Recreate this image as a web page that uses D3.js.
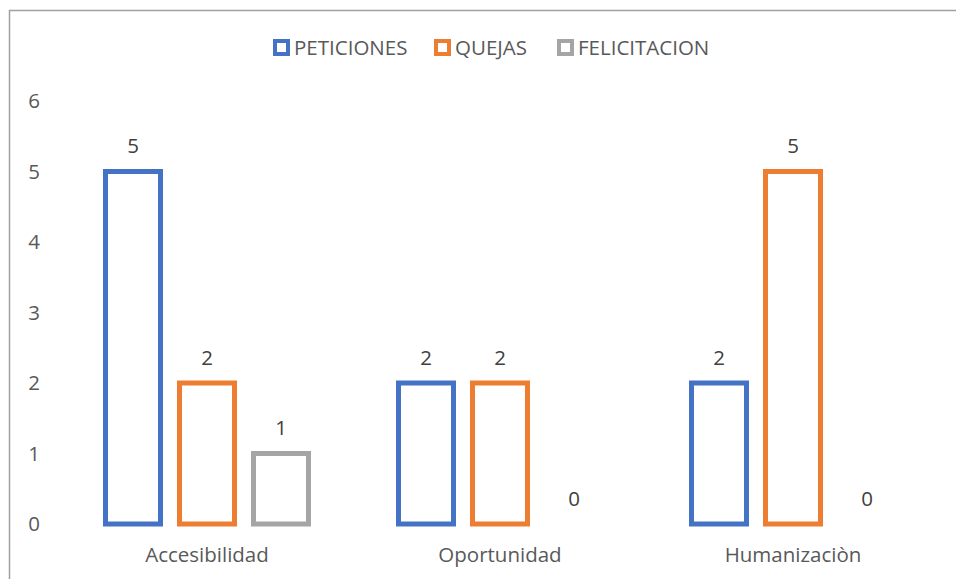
<!DOCTYPE html>
<html><head><meta charset="utf-8">
<script src="https://cdn.jsdelivr.net/npm/d3@7"></script>
<style>body{margin:0;background:#fff;} svg{display:block;}</style>
</head><body>
<svg id="c" width="956" height="579"></svg>
<script>
const categories = ["Accesibilidad", "Oportunidad", "Humanizaciòn"];
const series = ["PETICIONES", "QUEJAS", "FELICITACION"];
const peticiones = [5, 2, 2];
const quejas = [2, 2, 5];
const felicitacion = [1, 0, 0];
const yTicks = [0, 1, 2, 3, 4, 5, 6];
const colors = ["#4472C4", "#ED7D31", "#A5A5A5"];

const values = [peticiones, quejas, felicitacion];
const svg = d3.select("#c");
const font = "'Open Sans', sans-serif";
const fs = 20.5;

svg.append("rect").attr("x", 9.5).attr("y", 10.5).attr("width", 960).attr("height", 600)
  .attr("fill", "#fff").attr("stroke", "#a0a0a0").attr("stroke-width", 1.5);

const y = d3.scaleLinear().domain([0, 6]).range([524, 101]);
const x0 = d3.scaleBand().domain(categories).range([60.5, 939.5]);
const x1 = d3.scaleBand().domain(series).range([0, 222]).paddingInner(19/74).paddingOuter(19/148);

// y axis labels
const yAxis = d3.axisLeft(y).tickValues(yTicks).tickSize(0).tickPadding(0).tickFormat(d3.format("d"));
const ga = svg.append("g").attr("transform", "translate(40,0)").call(yAxis);
ga.select(".domain").remove();
ga.selectAll("text").attr("font-family", font).attr("font-size", fs).attr("fill", "#595959");

// x axis labels
const xAxis = d3.axisBottom(x0).tickSize(0).tickPadding(0);
const gx = svg.append("g").attr("transform", "translate(0,547)").call(xAxis);
gx.select(".domain").remove();
gx.selectAll("text").attr("font-family", font).attr("font-size", fs).attr("fill", "#595959");

const groups = svg.append("g").selectAll("g").data(categories).join("g")
  .attr("transform", d => `translate(${x0(d) + x0.bandwidth()/2 - 111},0)`);

series.forEach((s, si) => {
  groups.each(function(cat, ci) {
    const v = values[si][ci];
    const g = d3.select(this);
    if (v > 0) {
      g.append("rect")
        .attr("x", x1(s)).attr("width", x1.bandwidth())
        .attr("y", y(v)).attr("height", y(0) - y(v))
        .attr("fill", "#fff").attr("stroke", colors[si]).attr("stroke-width", 5);
    }
    g.append("text")
      .attr("x", x1(s) + x1.bandwidth()/2).attr("y", y(v) - 18.5)
      .attr("text-anchor", "middle").attr("font-family", font).attr("font-size", fs)
      .attr("fill", "#404040").text(d3.format("d")(v));
  });
});

// legend
const legendX = [273, 434, 557];
const lg = svg.append("g").selectAll("g").data(series).join("g")
  .attr("transform", (d, i) => `translate(${legendX[i]},39)`);
lg.append("rect").attr("x", 2).attr("y", 2).attr("width", 13).attr("height", 13)
  .attr("fill", "#fff").attr("stroke", (d, i) => colors[i]).attr("stroke-width", 4);
lg.append("text").attr("x", 21).attr("y", 16).attr("font-family", font).attr("font-size", fs)
  .attr("fill", "#595959").text(d => d);
</script>
</body></html>
